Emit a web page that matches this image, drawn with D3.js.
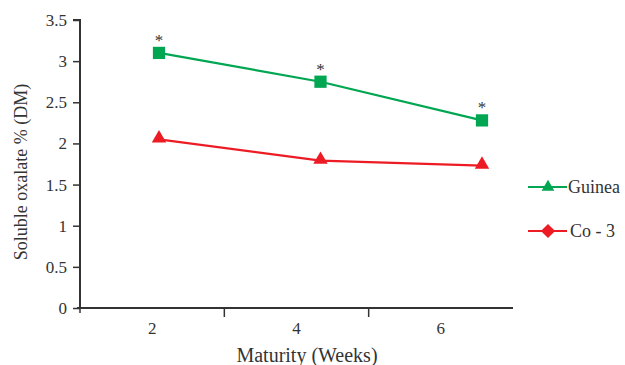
<!DOCTYPE html>
<html><head><meta charset="utf-8">
<script src="https://cdn.jsdelivr.net/npm/d3@7"></script>
<style>body{margin:0;background:#fff}svg{display:block}text{font-family:"Liberation Serif","DejaVu Serif",serif;fill:#333}</style>
</head><body><svg id="c" width="625" height="365"></svg>
<script>
const weeks = ["2", "4", "6"];
const guinea = [3.1, 2.75, 2.28];
const co3 = [2.05, 1.79, 1.73];
const yTicks = [0, 0.5, 1, 1.5, 2, 2.5, 3, 3.5];
const seriesNames = ["Guinea", "Co - 3"];
const significance = ["*", "*", "*"];

const svg = d3.select("#c");
const mLeft = 80, mRight = 513, mTop = 20, mBottom = 308;
const green = "#00a651", red = "#ed1c24", axisCol = "#333";

const y = d3.scaleLinear().domain([0, 3.5]).range([mBottom, mTop]);
const xBand = d3.scaleBand().domain(weeks).range([mLeft, mRight]);
const xPt = d3.scalePoint().domain(weeks).range([159, 482]);

// Y axis
const ya = svg.append("g").attr("transform", `translate(${mLeft},0)`)
  .call(d3.axisLeft(y).tickValues(yTicks).tickFormat(d3.format("")).tickSizeOuter(0).tickSize(7).tickPadding(6));
ya.select(".domain").attr("stroke", axisCol).attr("stroke-width", 2).attr("d", `M0,${mBottom}V${mTop}H-7`);
ya.selectAll(".tick line").attr("stroke", axisCol).attr("stroke-width", 1.5);
ya.selectAll(".tick text").attr("font-size", 17).style("fill", "#333");

// X axis
const xa = svg.append("g").attr("transform", `translate(0,${mBottom})`)
  .call(d3.axisBottom(xBand).tickSize(0).tickPadding(14));
xa.select(".domain").attr("stroke", axisCol).attr("stroke-width", 2).attr("d", `M${mLeft-3},0H${mRight}`);
xa.selectAll(".tick text").attr("font-size", 17).style("fill", "#333");
svg.append("g").selectAll("line").data(weeks.slice(1)).join("line")
  .attr("x1", d => xBand(d)).attr("x2", d => xBand(d))
  .attr("y1", mBottom).attr("y2", mBottom + 9).attr("stroke", axisCol).attr("stroke-width", 1.5);
svg.append("line").attr("x1", mLeft).attr("x2", mLeft).attr("y1", mBottom).attr("y2", mBottom + 5)
  .attr("stroke", axisCol).attr("stroke-width", 1.5);

// Axis titles
svg.append("text").attr("transform", `translate(27,${(mTop + mBottom) / 2 + 8}) rotate(-90)`)
  .attr("text-anchor", "middle").attr("font-size", 18).text("Soluble oxalate % (DM)");
svg.append("text").attr("x", 307).attr("y", 362).attr("text-anchor", "middle")
  .attr("font-size", 20).text("Maturity (Weeks)");

const line = d3.line().x((d, i) => xPt(weeks[i])).y(d => y(d));

// Guinea (green squares)
svg.append("path").datum(guinea).attr("d", line).attr("fill", "none").attr("stroke", green).attr("stroke-width", 2.2);
svg.append("g").selectAll("path").data(guinea).join("path")
  .attr("transform", (d, i) => `translate(${xPt(weeks[i])},${y(d)})`)
  .attr("d", d3.symbol(d3.symbolSquare, 150)).attr("fill", green);
svg.append("g").selectAll("text").data(guinea).join("text")
  .attr("x", (d, i) => xPt(weeks[i])).attr("y", d => y(d) - 7)
  .attr("text-anchor", "middle").attr("font-size", 17).text((d, i) => significance[i]);

// Co-3 (red triangles)
svg.append("path").datum(co3).attr("d", line).attr("fill", "none").attr("stroke", red).attr("stroke-width", 2.2);
svg.append("g").selectAll("path").data(co3).join("path")
  .attr("transform", (d, i) => `translate(${xPt(weeks[i])},${y(d) - 1})`)
  .attr("d", d3.symbol(d3.symbolTriangle, 90)).attr("fill", red);

// Legend
const legend = svg.append("g");
const legY = [187, 231];
const legCols = [green, red];
const legSyms = [d3.symbolTriangle, d3.symbolSquare];
seriesNames.forEach((name, i) => {
  const g = legend.append("g").attr("transform", `translate(0,${legY[i]})`);
  g.append("line").attr("x1", 528).attr("x2", 567).attr("stroke", legCols[i]).attr("stroke-width", 2.2);
  g.append("path").attr("transform", `translate(548,0) rotate(${i === 0 ? 0 : 45})`)
    .attr("d", d3.symbol(legSyms[i], i === 0 ? 70 : 100)).attr("fill", legCols[i]);
  g.append("text").attr("x", i === 0 ? 568 : 570).attr("y", 6).attr("font-size", 18).text(name);
});
</script></body></html>
